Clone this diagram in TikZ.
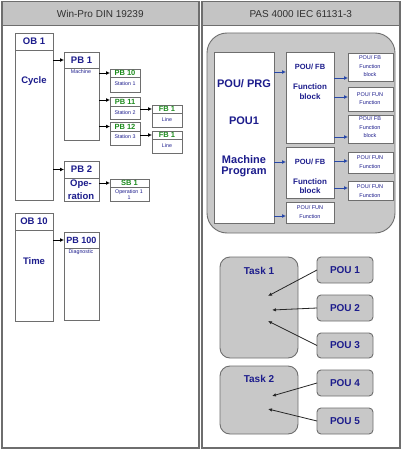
\documentclass[tikz,border=0pt]{standalone}
\usepackage{fontspec}
\setmainfont{Liberation Sans}
\usetikzlibrary{arrows.meta}
\definecolor{navy}{HTML}{1C1C8C}
\definecolor{grn}{HTML}{1E8C1E}
\definecolor{hdr}{HTML}{C4C4C4}
\definecolor{edge}{HTML}{6E6E6E}
\definecolor{fillg}{HTML}{C8C8C8}
\definecolor{arrblue}{HTML}{2848A8}
\definecolor{titlec}{HTML}{303030}
\newcommand\bx[6][]{\node[box,#1,minimum width={(#5-#3)*1pt},minimum height={(#6-#4)*1pt}] (#2) at (#3,#4) {};}
\begin{document}
\begin{tikzpicture}[x=1pt,y=-1pt,
  panel/.style={draw=edge,line width=1.5pt,fill=white},
  hdrbox/.style={draw=edge,line width=1.5pt,fill=hdr},
  box/.style={draw=edge,line width=0.9pt,fill=white,inner sep=0pt,outer sep=0pt,anchor=north west},
  gbox/.style={box,fill=fillg,rounded corners=#1},
  ttl/.style={font=\fontsize{10}{12}\selectfont,text=titlec},
  big/.style={font=\fontsize{9.5}{11}\selectfont\bfseries,text=navy,inner sep=0pt},
  grt/.style={font=\fontsize{7.5}{8}\selectfont\bfseries,text=grn,inner sep=0pt},
  tiny/.style={font=\fontsize{5.3}{6}\selectfont,text=navy,inner sep=0pt},
  sm/.style={font=\fontsize{5.5}{6}\selectfont,text=navy,inner sep=0pt},
  mid/.style={font=\fontsize{8}{9}\selectfont\bfseries,text=navy,inner sep=0pt},
  arr/.style={-{Latex[length=4pt,width=4pt]},line width=0.8pt,black},
  barr/.style={-{Latex[length=4pt,width=4pt]},line width=0.8pt,arrblue},
  darr/.style={-{Latex[length=4pt,width=3.5pt]},line width=0.8pt,black!85}]
\useasboundingbox (0,0) rectangle (400,449);
% panels
\node[panel,inner sep=0pt,anchor=north west,minimum width=197pt,minimum height=446pt] (lp) at (1,1) {};
\node[hdrbox,inner sep=0pt,anchor=north west,minimum width=197pt,minimum height=24pt] (lh) at (1,1) {};
\node[panel,inner sep=0pt,anchor=north west,minimum width=198pt,minimum height=446pt] (rp) at (201,1) {};
\node[hdrbox,inner sep=0pt,anchor=north west,minimum width=198pt,minimum height=24pt] (rh) at (201,1) {};
\node[ttl] at (lh.center) {Win-Pro DIN 19239};
\node[ttl] at (rh.center) {PAS 4000 IEC 61131-3};
% left boxes
\bx{ob1h}{15}{33}{53}{50}\bx{ob1}{15}{50}{53}{200}
\bx{pb1h}{64}{52}{99}{68}\bx{pb1}{64}{68}{99}{140}
\bx{pb10h}{110}{69}{140}{77}\bx{pb10}{110}{77}{140}{92}
\bx{pb11h}{110}{97}{140}{106}\bx{pb11}{110}{106}{140}{119}
\bx{fb1h}{152}{105}{182}{113}\bx{fb1}{152}{113}{182}{127}
\bx{pb12h}{110}{122}{140}{131}\bx{pb12}{110}{131}{140}{145}
\bx{fb2h}{152}{131}{182}{139}\bx{fb2}{152}{139}{182}{153}
\bx{pb2h}{64}{161}{99}{178}\bx{pb2}{64}{178}{99}{201}
\bx{sb1h}{110}{179}{149}{187}\bx{sb1}{110}{187}{149}{201}
\bx{ob10h}{15}{213}{53}{230}\bx{ob10}{15}{230}{53}{321}
\bx{pb100h}{64}{232}{99}{248}\bx{pb100}{64}{248}{99}{320}
% left texts
\node[big] at (ob1h.center) {OB 1};
\node[big] at (34,81) {Cycle};
\node[big] at (pb1h.center) {PB 1};
\node[tiny] at (81,72) {Machine};
\node[grt] at (pb10h.center) {PB 10};
\node[tiny] at (125,84) {Station 1};
\node[grt] at (pb11h.center) {PB 11};
\node[tiny] at (125,113) {Station 2};
\node[grt] at (fb1h.center) {FB 1};
\node[tiny] at (167,120) {Line};
\node[grt] at (pb12h.center) {PB 12};
\node[tiny] at (125,137) {Station 3};
\node[grt] at (fb2h.center) {FB 1};
\node[tiny] at (167,146) {Line};
\node[big] at (pb2h.center) {PB 2};
\node[big] at (81,184) {Ope-};
\node[big] at (81,196) {ration};
\node[grt] at (sb1h.center) {SB 1};
\node[tiny] at (129,192) {Operation 1};
\node[tiny] at (129,198) {1};
\node[big] at (ob10h.center) {OB 10};
\node[big] at (34,261) {Time};
\node[big,font=\fontsize{9}{10}\selectfont\bfseries] at (pb100h.center) {PB 100};
\node[tiny] at (81,252) {Diagnostic};
% left arrows
\draw[arr] (ob1.east |- pb1h.west) -- (pb1h.west);
\draw[arr] (pb1.east |- pb10h.west) -- (pb10h.west);
\draw[arr] (pb1.east |- 0,100) -- (pb11h.west |- 0,100);
\draw[arr] (pb11.east |- fb1h.west) -- (fb1h.west);
\draw[arr] (pb1.east |- pb12h.west) -- (pb12h.west);
\draw[arr] (pb12.east |- fb2h.west) -- (fb2h.west);
\draw[arr] (ob1.east |- pb2h.west) -- (pb2h.west);
\draw[arr] (pb2h.east |- sb1h.west) -- (sb1h.west);
\draw[arr] (ob10.east |- pb100h.west) -- (pb100h.west);
% right top
\bx[gbox=20pt]{prog}{207}{33}{395}{233}
\bx{prg}{214}{52}{274}{223}
\bx{fbA}{286}{52}{334}{143}
\bx{fbB}{286}{147}{334}{198}
\bx{fun0}{286}{202}{334}{223}
\bx{sA}{348}{53}{393}{81}
\bx{sB}{348}{87}{393}{111}
\bx{sC}{348}{115}{393}{143}
\bx{sD}{348}{152}{393}{173}
\bx{sE}{348}{181}{393}{200}
\node[big,font=\fontsize{11}{12}\selectfont\bfseries] at (244,84) {POU/ PRG};
\node[big,font=\fontsize{11}{12}\selectfont\bfseries] at (244,121) {POU1};
\node[big,font=\fontsize{11}{12}\selectfont\bfseries] at (244,160) {Machine};
\node[big,font=\fontsize{11}{12}\selectfont\bfseries] at (244,172) {Program};
\node[mid,font=\fontsize{7.5}{8}\selectfont\bfseries] at (310,67) {POU/ FB};
\node[mid] at (310,87) {Function};
\node[mid] at (310,97) {block};
\node[mid,font=\fontsize{7.5}{8}\selectfont\bfseries] at (310,162) {POU/ FB};
\node[mid] at (310,182) {Function};
\node[mid] at (310,191) {block};
\node[sm] at (310,208) {POU/ FUN};
\node[sm] at (310,217) {Function};
\node[sm] at (370,58) {POU/ FB};
\node[sm] at (370,67) {Function};
\node[sm] at (370,75) {block};
\node[sm] at (370,95) {POU/ FUN};
\node[sm] at (370,103) {Function};
\node[sm] at (370,119) {POU/ FB};
\node[sm] at (370,128) {Function};
\node[sm] at (370,136) {block};
\node[sm] at (370,158) {POU/ FUN};
\node[sm] at (370,167) {Function};
\node[sm] at (370,187) {POU/ FUN};
\node[sm] at (370,196) {Function};
\draw[barr] (prg.east |- 0,72) -- (fbA.west |- 0,72);
\draw[barr] (prg.east |- 0,162) -- (fbB.west |- 0,162);
\draw[barr] (prg.east |- 0,216) -- (fun0.west |- 0,216);
\draw[barr] (fbA.east |- 0,78) -- (sA.west |- 0,78);
\draw[barr] (fbA.east |- 0,97) -- (sB.west |- 0,97);
\draw[barr] (fbA.east |- 0,137) -- (sC.west |- 0,137);
\draw[barr] (fbB.east |- 0,161) -- (sD.west |- 0,161);
\draw[barr] (fbB.east |- 0,188) -- (sE.west |- 0,188);
% tasks
\bx[gbox=10pt]{task1}{220}{257}{298}{358}
\bx[gbox=10pt]{task2}{220}{366}{298}{434}
\bx[gbox=4pt]{pou1}{317}{257}{373}{283}
\bx[gbox=4pt]{pou2}{317}{295}{373}{321}
\bx[gbox=4pt]{pou3}{317}{333}{373}{358}
\bx[gbox=4pt]{pou4}{317}{370}{373}{396}
\bx[gbox=4pt]{pou5}{317}{408}{373}{434}
\node[big,font=\fontsize{10}{11}\selectfont\bfseries] at (259,271) {Task 1};
\node[big,font=\fontsize{10}{11}\selectfont\bfseries] at (259,379) {Task 2};
\foreach \i in {1,...,5}{\node[big,font=\fontsize{10}{11}\selectfont\bfseries] at (pou\i.center) {POU \i};}
\coordinate (t1a) at (268,296);
\coordinate (t1b) at (272,310);
\coordinate (t1c) at (268,321);
\coordinate (t2a) at (272,396);
\coordinate (t2b) at (268,409);
\draw[darr] (pou1.west) -- (t1a);
\draw[darr] (pou2.west) -- (t1b);
\draw[darr] (pou3.west) -- (t1c);
\draw[darr] (pou4.west) -- (t2a);
\draw[darr] (pou5.west) -- (t2b);
\end{tikzpicture}
\end{document}
